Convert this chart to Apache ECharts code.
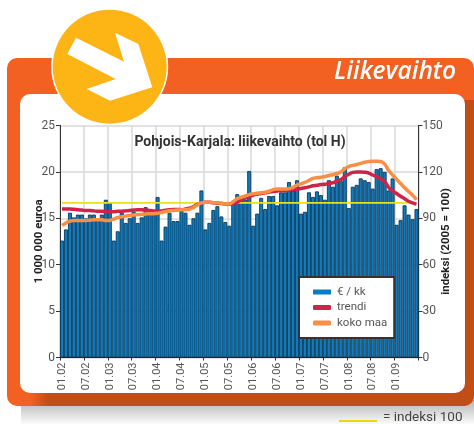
<!DOCTYPE html>
<html><head><meta charset="utf-8">
<style>html,body{margin:0;padding:0;background:#fff}#c{width:474px;height:424px}</style>
<script src="https://cdn.jsdelivr.net/npm/echarts@6/dist/echarts.min.js"></script></head>
<body><div id="c"></div>
<script>
const years = ['02','03','04','05','06','07','08','09'];
const categories = [];
years.forEach(y => { for (let m = 1; m <= 12; m++) { if (y === '09' && m > 6) break; categories.push((m < 10 ? '0' : '') + m + '.' + y); } });
const euroMonthly = [
12.6,13.8,15.6,15.1,15.4,15.4,15.0,15.4,15.4,15.0,15.4,17.0,
16.7,12.6,13.6,15.6,14.5,15.0,15.7,14.5,15.1,16.2,16.0,15.8,
17.3,12.6,14.1,15.6,14.7,14.7,16.0,15.6,14.3,15.0,15.6,18.0,
13.8,14.5,15.9,16.3,15.2,14.6,14.2,16.8,17.6,17.0,17.0,20.1,
14.2,15.5,17.2,16.0,17.4,17.4,16.4,17.8,17.8,18.9,18.0,19.1,
15.5,15.7,17.8,17.3,17.9,17.5,17.0,19.1,18.4,19.6,19.0,20.5,
16.1,18.4,18.6,19.3,19.1,18.9,18.2,20.3,20.4,20.0,18.0,19.3,
14.3,14.8,16.4,15.4,14.9,16.0];
const trendi = [
96,96,96,95.8,95.5,95.3,95,95,94.8,94.5,94.5,94.4,
94.3,94.3,94.5,94.6,94.8,95,95.3,95.5,95.5,95.3,95,94.8,
94.6,94.8,95.2,95.5,95.7,95.7,95.6,96,96.5,97.5,99,100,
100.3,100.3,100,99.8,99.5,99.3,99.2,99.5,100.5,102,103,104,
105,105.6,106,106.5,107,107.3,107.6,107.9,108,108.3,108.6,108.9,
109.3,109.8,110.3,111,111.4,111.8,112,112.5,113,114,115,117,
118.5,119.7,120,120,119.8,119.2,118,116.8,115.5,113.8,110,107.8,
106,104.2,102.7,101,100,99.2];
const kokoMaa = [
85.4,87,88.2,88.6,88.6,88.6,88.6,88.8,89,89,89,88.5,
88.6,89.5,90.5,91,91.4,91.8,92.2,92.4,92.6,92.8,92.9,93,
93.2,93.8,94.4,94.9,95.1,95.3,95.5,95.6,95.9,97,98.6,100,
100.3,100.3,100.1,100,99.7,99.4,99.4,100.8,102.7,103.6,104.4,105.3,
105.8,106.2,106.5,106.9,107.5,108.5,109,109,108.9,109.3,110,111.5,
112.3,113.3,114.5,115.8,116.2,116.6,117,117.7,118.2,119,120,122,
123.5,124.2,124.8,125.5,126.2,126.7,126.9,126.9,126.7,125,121,118,
115.2,112.5,109.8,107.3,105,102];
const indeksi100 = categories.slice(0, 88).map(() => 100);
const FN = 'Roboto,"Noto Sans",sans-serif';
const ORANGE = '#F36122', BROWN = '#C24E17';
const chart = echarts.init(document.getElementById('c'), null, {renderer:'canvas'});
chart.setOption({
  animation:false,
  backgroundColor:'#fff',
  graphic:[
    {type:'rect',z:-20,shape:{x:21,y:400,width:453,height:24},style:{fill:new echarts.graphic.LinearGradient(0,0,0,1,[{offset:0,color:'#b4b4b4'},{offset:1,color:'#fbfbfb'}])}},
    {type:'rect',z:-19,shape:{x:7,y:58,width:467,height:348,r:10},style:{fill:ORANGE}},
    {type:'rect',z:-18,shape:{x:30,y:100,width:444,height:306,r:[0,0,10,0]},style:{fill:new echarts.graphic.LinearGradient(0,0,1,0,[{offset:0,color:ORANGE},{offset:0.04,color:BROWN},{offset:1,color:BROWN}])}},
    {type:'rect',z:-17,shape:{x:20,y:94,width:445,height:299,r:10},style:{fill:'#fff'}},
    {type:'circle',z:-16,shape:{cx:109.7,cy:66.7,r:58.5},style:{fill:'#fff'}},
    {type:'circle',z:-15,shape:{cx:109.7,cy:66.7,r:57},style:{fill:'#FDB515'}},
    {type:'polygon',z:-14,shape:{points:[[76,37.7],[124,61.7],[115,32.7],[138.3,44],[152.3,87.3],[110,100.7],[86.7,89],[115.7,79],[67.3,54]]},style:{fill:'#fff'}},
    {type:'text',z:-13,style:{x:456,y:72,text:'Liikevaihto',fill:'#fff',font:'italic 600 24.5px "Open Sans",sans-serif',textAlign:'right',textVerticalAlign:'middle'}},
    {type:'line',shape:{x1:339,y1:421,x2:377,y2:421},style:{stroke:'#EFD800',lineWidth:2}},
    {type:'text',style:{x:383,y:418,text:'= indeksi 100',fill:'#444',font:'13.5px '+FN,textVerticalAlign:'middle'}}
  ],
  title:{text:'Pohjois-Karjala: liikevaihto (tol H)',left:235,top:130,textAlign:'center',textStyle:{fontFamily:FN,fontSize:14,fontWeight:'bold',color:'#333'}},
  legend:{
    left:299,top:277,orient:'vertical',padding:[9,7,9,14],itemGap:3.5,itemWidth:18,itemHeight:5,
    backgroundColor:'#fff',borderColor:'#333',borderWidth:2,borderRadius:0,
    textStyle:{fontFamily:FN,fontSize:11.5,color:'#555',padding:[0,0,0,1]},
    data:[{name:'€ / kk',icon:'rect',itemStyle:{borderWidth:0}},{name:'trendi',icon:'roundRect'},{name:'koko maa',icon:'roundRect'}]
  },
  grid:{left:60,right:55.5,top:125.5,bottom:66.5,containLabel:false},
  xAxis:{type:'category',data:categories,
    axisLine:{lineStyle:{color:'#222',width:1}},
    axisTick:{show:true,interval:5,length:3,lineStyle:{color:'#333'}},
    axisLabel:{interval:5,rotate:90,margin:5,fontFamily:FN,fontSize:11,color:'#555'},
    splitLine:{show:true,interval:5,lineStyle:{color:'#d9d9d9',width:1.5}}},
  yAxis:[
    {type:'value',min:0,max:25,interval:5,
      name:'1 000 000 euroa',nameLocation:'middle',nameGap:15,nameMoveOverlap:false,nameTextStyle:{fontFamily:FN,fontSize:11.5,fontWeight:'bold',color:'#222'},
      axisLine:{show:true,lineStyle:{color:'#333'}},axisTick:{show:true,length:4,lineStyle:{color:'#333'}},
      axisLabel:{margin:5,fontFamily:FN,fontSize:12,color:'#555'},
      splitLine:{show:true,lineStyle:{color:'#d9d9d9',width:1.5}}},
    {type:'value',min:0,max:150,interval:30,position:'right',
      name:'indeksi (2005 = 100)',nameLocation:'middle',nameGap:22,nameRotate:90,nameMoveOverlap:false,nameTextStyle:{fontFamily:FN,fontSize:11.5,fontWeight:'bold',color:'#222'},
      axisLine:{show:true,lineStyle:{color:'#333'}},axisTick:{show:true,length:4,lineStyle:{color:'#333'}},
      axisLabel:{margin:4,fontFamily:FN,fontSize:12,color:'#555'},
      splitLine:{show:false}}
  ],
  series:[
    {name:'€ / kk',type:'bar',data:euroMonthly,barWidth:'100%',barGap:0,itemStyle:{color:'#0A7DC2',borderColor:'#103553',borderWidth:0.9}},
    {name:'= indeksi 100',type:'line',yAxisIndex:1,data:indeksi100,showSymbol:false,lineStyle:{color:'#E6E21E',width:1.8},z:3},
    {name:'trendi',type:'line',yAxisIndex:1,data:trendi,smooth:true,showSymbol:false,itemStyle:{color:'#CF2348'},lineStyle:{color:'#CF2348',width:3.5},z:4},
    {name:'koko maa',type:'line',yAxisIndex:1,data:kokoMaa,smooth:true,showSymbol:false,itemStyle:{color:'#F79046'},lineStyle:{color:'#F79046',width:3.5},z:5}
  ]
});
</script></body></html>
